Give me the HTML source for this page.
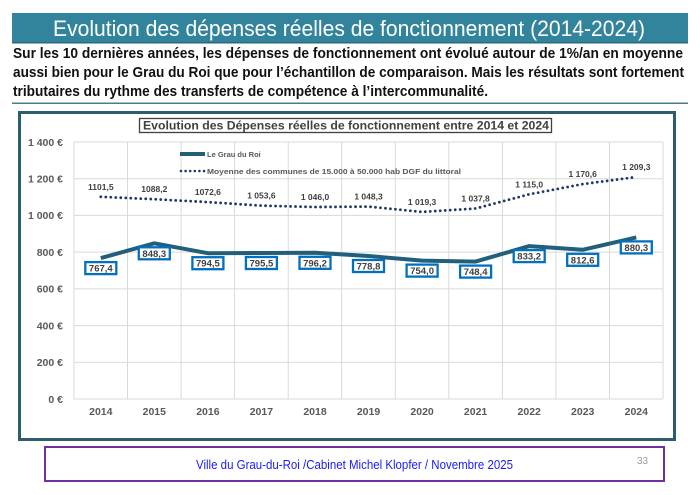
<!DOCTYPE html>
<html><head><meta charset="utf-8"><style>
html,body{margin:0;padding:0;background:#fff;}
svg{display:block;}
text{font-family:"Liberation Sans",sans-serif;}
</style></head><body>
<svg width="700" height="495" viewBox="0 0 700 495" xmlns="http://www.w3.org/2000/svg">
<rect width="700" height="495" fill="#fff"/>
<!-- title bar -->
<rect x="12" y="13" width="676" height="30" fill="#31849b"/>
<rect x="12" y="42" width="676" height="1.5" fill="#2a6a7c"/>
<text x="53" y="36" font-size="22" fill="#fff" textLength="592" lengthAdjust="spacingAndGlyphs">Evolution des dépenses réelles de fonctionnement (2014-2024)</text>
<!-- body text -->
<g font-size="15" font-weight="bold" fill="#111">
<text x="13" y="58" textLength="670" lengthAdjust="spacingAndGlyphs">Sur les 10 dernières années, les dépenses de fonctionnement ont évolué autour de 1%/an en moyenne</text>
<text x="13" y="77" textLength="671" lengthAdjust="spacingAndGlyphs">aussi bien pour le Grau du Roi que pour l’échantillon de comparaison. Mais les résultats sont fortement</text>
<text x="13" y="96" textLength="475" lengthAdjust="spacingAndGlyphs">tributaires du rythme des transferts de compétence à l’intercommunalité.</text>
</g>
<rect x="12" y="102.5" width="676" height="1.5" fill="#4a7c8e"/>
<!-- chart frame -->
<rect x="19.5" y="112.5" width="655" height="327" fill="#fff" stroke="#2e5e6e" stroke-width="3"/>
<!-- chart title -->
<rect x="139.5" y="118.5" width="412" height="14" fill="#fff" stroke="#404040" stroke-width="1.3"/>
<text x="143" y="129.5" font-size="11.5" font-weight="bold" fill="#404040" textLength="406" lengthAdjust="spacingAndGlyphs">Evolution des Dépenses réelles de fonctionnement entre 2014 et 2024</text>
<!-- gridlines -->
<g stroke="#d9d9d9" stroke-width="1">
<line x1="74" y1="142" x2="663" y2="142"/>
<line x1="74" y1="178.7" x2="663" y2="178.7"/>
<line x1="74" y1="215.4" x2="663" y2="215.4"/>
<line x1="74" y1="252.1" x2="663" y2="252.1"/>
<line x1="74" y1="288.9" x2="663" y2="288.9"/>
<line x1="74" y1="325.6" x2="663" y2="325.6"/>
<line x1="74" y1="362.3" x2="663" y2="362.3"/>
<line x1="74" y1="399" x2="663" y2="399"/>
<line x1="74" y1="142" x2="74" y2="399"/>
<line x1="127.5" y1="142" x2="127.5" y2="399"/>
<line x1="181.1" y1="142" x2="181.1" y2="399"/>
<line x1="234.6" y1="142" x2="234.6" y2="399"/>
<line x1="288.2" y1="142" x2="288.2" y2="399"/>
<line x1="341.7" y1="142" x2="341.7" y2="399"/>
<line x1="395.3" y1="142" x2="395.3" y2="399"/>
<line x1="448.8" y1="142" x2="448.8" y2="399"/>
<line x1="502.4" y1="142" x2="502.4" y2="399"/>
<line x1="555.9" y1="142" x2="555.9" y2="399"/>
<line x1="609.5" y1="142" x2="609.5" y2="399"/>
<line x1="663" y1="142" x2="663" y2="399"/>
</g>
<!-- y labels -->
<g font-size="10.5" font-weight="bold" fill="#595959" text-anchor="end">
<text x="63" y="145.8">1 400 €</text>
<text x="63" y="182.5">1 200 €</text>
<text x="63" y="219.2">1 000 €</text>
<text x="63" y="255.9">800 €</text>
<text x="63" y="292.7">600 €</text>
<text x="63" y="329.4">400 €</text>
<text x="63" y="366.1">200 €</text>
<text x="63" y="402.8">0 €</text>
</g>
<!-- x labels -->
<g font-size="10.5" font-weight="bold" fill="#595959" text-anchor="middle">
<text x="100.8" y="415">2014</text>
<text x="154.3" y="415">2015</text>
<text x="207.9" y="415">2016</text>
<text x="261.4" y="415">2017</text>
<text x="315" y="415">2018</text>
<text x="368.5" y="415">2019</text>
<text x="422.1" y="415">2020</text>
<text x="475.6" y="415">2021</text>
<text x="529.2" y="415">2022</text>
<text x="582.7" y="415">2023</text>
<text x="636.3" y="415">2024</text>
</g>
<!-- legend -->
<line x1="180" y1="154" x2="205" y2="154" stroke="#215f7a" stroke-width="4"/>
<text x="207" y="157" font-size="7.5" font-weight="bold" fill="#595959">Le Grau du Roi</text>
<line x1="181" y1="171" x2="205" y2="171" stroke="#1f3864" stroke-width="2.6" stroke-dasharray="0 4.6" stroke-linecap="round"/>
<text x="207" y="174" font-size="7.5" font-weight="bold" fill="#595959" textLength="254" lengthAdjust="spacingAndGlyphs">Moyenne des communes de 15.000 à 50.000 hab DGF du littoral</text>
<!-- moyenne dotted -->
<polyline fill="none" stroke="#1f3864" stroke-width="2.8" stroke-dasharray="0 5" stroke-linecap="round" stroke-linejoin="round"
points="100.8,196.8 154.3,199.2 207.9,202.1 261.4,205.6 315,207 368.5,206.6 422.1,211.9 475.6,208.5 529.2,194.3 582.7,184.1 636.3,177"/>
<!-- grau line -->
<polyline fill="none" stroke="#215f7a" stroke-width="4" stroke-linejoin="round"
points="100.8,258.1 154.3,243.3 207.9,253.2 261.4,253 315,252.8 368.5,256 422.1,260.6 475.6,261.6 529.2,246.1 582.7,249.8 636.3,237.4"/>
<!-- moyenne labels -->
<g font-size="8.5" font-weight="bold" fill="#404040" text-anchor="middle">
<text x="100.8" y="189.8">1101,5</text>
<text x="154.3" y="192.2">1088,2</text>
<text x="207.9" y="195.1">1072,6</text>
<text x="261.4" y="198.6">1 053,6</text>
<text x="315" y="200">1 046,0</text>
<text x="368.5" y="199.6">1 048,3</text>
<text x="422.1" y="204.9">1 019,3</text>
<text x="475.6" y="201.5">1 037,8</text>
<text x="529.2" y="187.3">1 115,0</text>
<text x="582.7" y="177.1">1 170,6</text>
<text x="636.3" y="170">1 209,3</text>
</g>
<!-- grau labels -->
<g fill="#fff" stroke="#0070c0" stroke-width="2.3">
<rect x="85.3" y="262.1" width="31" height="12"/>
<rect x="138.8" y="247.3" width="31" height="12"/>
<rect x="192.4" y="257.2" width="31" height="12"/>
<rect x="245.9" y="257" width="31" height="12"/>
<rect x="299.5" y="256.8" width="31" height="12"/>
<rect x="353" y="260" width="31" height="12"/>
<rect x="406.6" y="264.6" width="31" height="12"/>
<rect x="460.1" y="265.6" width="31" height="12"/>
<rect x="513.7" y="250.1" width="31" height="12"/>
<rect x="567.2" y="253.8" width="31" height="12"/>
<rect x="620.8" y="241.4" width="31" height="12"/>
</g>
<g font-size="9.5" font-weight="bold" fill="#404040" text-anchor="middle">
<text x="100.8" y="271.6">767,4</text>
<text x="154.3" y="256.8">848,3</text>
<text x="207.9" y="266.7">794,5</text>
<text x="261.4" y="266.5">795,5</text>
<text x="315" y="266.3">796,2</text>
<text x="368.5" y="269.5">778,8</text>
<text x="422.1" y="274.1">754,0</text>
<text x="475.6" y="275.1">748,4</text>
<text x="529.2" y="259.6">833,2</text>
<text x="582.7" y="263.3">812,6</text>
<text x="636.3" y="250.9">880,3</text>
</g>
<!-- footer -->
<rect x="45" y="447" width="619" height="34" fill="#fff" stroke="#7030a0" stroke-width="2"/>
<text x="196" y="469" font-size="12.5" fill="#1a1aff" textLength="317" lengthAdjust="spacingAndGlyphs">Ville du Grau-du-Roi /Cabinet Michel Klopfer / Novembre 2025</text>
<text x="637" y="464" font-size="10" fill="#999">33</text>
</svg>
</body></html>
